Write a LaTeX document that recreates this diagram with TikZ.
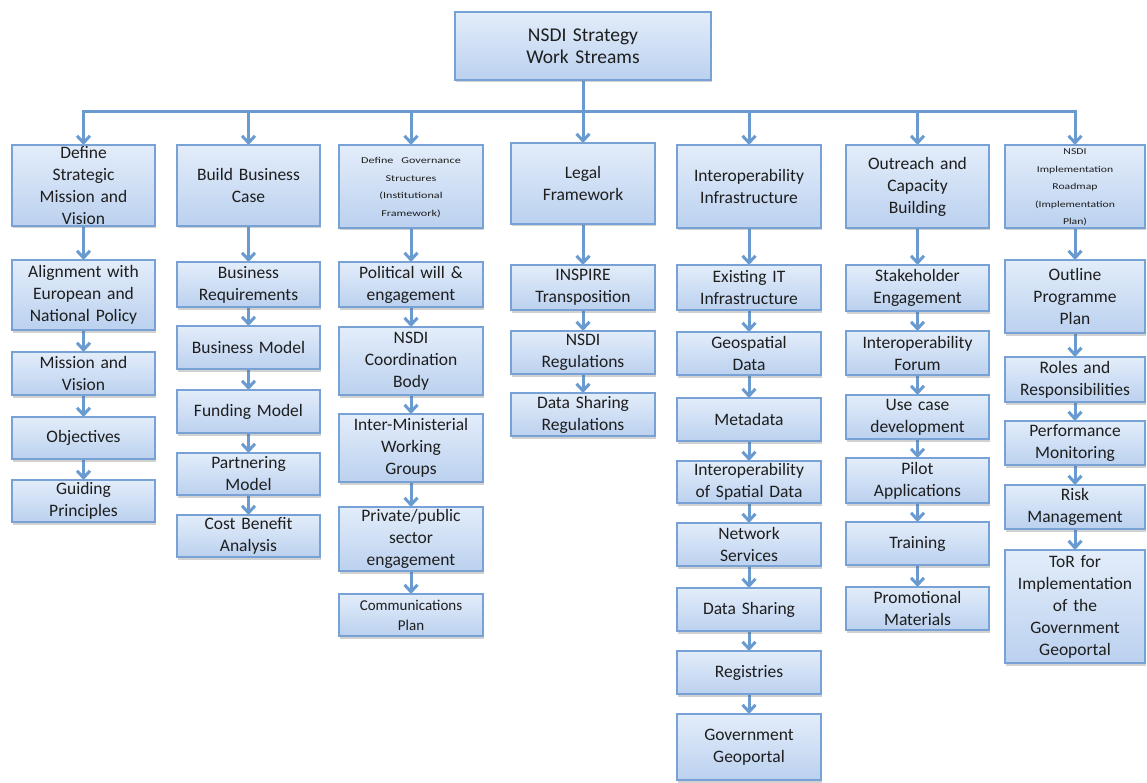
\documentclass[tikz,border=0pt]{standalone}
\usepackage{fontspec}
\setmainfont{Carlito}
\usetikzlibrary{arrows.meta,shadows}
\definecolor{boxtop}{HTML}{E3EDFA}
\definecolor{boxbot}{HTML}{BBD1EF}
\definecolor{boxline}{HTML}{78A2D6}
\definecolor{arrowc}{HTML}{6A9BD0}
\definecolor{txtc}{HTML}{1E1E1E}
\pgfdeclarelayer{background}
\pgfsetlayers{background,main}
\tikzset{
  box/.style={draw=boxline, line width=1.4pt, top color=boxtop, bottom color=boxbot,
    inner sep=0pt, outer sep=0pt,
    drop shadow={shadow xshift=1pt, shadow yshift=-2.5pt, opacity=0.3, fill=black!60}},
  txt/.style={align=center, text=txtc, inner sep=0pt, font=\fontsize{17.5}{22}\selectfont},
  small/.style={font=\fontsize{15}{20}\selectfont},
  big/.style={font=\fontsize{19.5}{22}\selectfont},
  link/.style={draw=arrowc, line width=3pt},
  arr/.style={link, -{Straight Barb[length=7pt,width=13pt]}},
}
% \bx[text style]{name}{left}{top}{right}{bottom}{text}
\newcommand{\bx}[7][]{%
  \node[box, minimum width={(#5-#3)*1pt}, minimum height={(#6-#4)*1pt}]
    (#2) at ({(#3+#5)/2},{(#4+#6)/2}) {};
  \node[txt, text width={(#5-#3-4)*1pt}, #1] at (#2.center) {#7};%
}
\newcommand{\tinytext}[2]{\scalebox{#1}[1]{\fontsize{9}{17.5}\selectfont
  \begin{tabular}{@{}c@{}}#2\end{tabular}}}
\begin{document}
\begin{tikzpicture}[x=1pt,y=-1pt]
\useasboundingbox (0,0) rectangle (1147,783);

% root
\bx[big]{top}{455}{12}{711}{80}{NSDI Strategy\\Work Streams}

% work stream headers
\bx{c1}{12}{145}{155}{226}{Define\\Strategic\\Mission and\\Vision}
\bx{c2}{177}{145}{320}{226}{Build Business\\Case}
\bx{c3}{339}{145}{483}{228}{\tinytext{1.35}{Define Governance\\Structures\\(Institutional\\Framework)}}
\bx{c4}{511}{143}{655}{224}{Legal\\Framework}
\bx{c5}{677}{145}{821}{228}{Interoperability\\Infrastructure}
\bx{c6}{846}{145}{989}{228}{Outreach and\\Capacity\\Building}
\bx{c7}{1005}{145}{1145}{228}{\tinytext{1.3}{NSDI\\Implementation\\Roadmap\\(Implementation\\Plan)}}

% column 1
\bx{a2}{12}{260}{155}{330}{Alignment with\\European and\\National Policy}
\bx{a3}{12}{352}{155}{395}{Mission and\\Vision}
\bx{a4}{12}{417}{155}{459}{Objectives}
\bx{a5}{12}{480}{155}{522}{Guiding\\Principles}

% column 2
\bx{b2}{177}{262}{320}{307}{Business\\Requirements}
\bx{b3}{177}{326}{320}{369}{Business Model}
\bx{b4}{177}{390}{320}{433}{Funding Model}
\bx{b5}{177}{453}{320}{495}{Partnering\\Model}
\bx{b6}{177}{515}{320}{557}{Cost Benefit\\Analysis}

% column 3
\bx{d2}{339}{262}{483}{307}{Political will \&\\engagement}
\bx{d3}{339}{327}{483}{395}{NSDI\\Coordination\\Body}
\bx{d4}{339}{414}{483}{482}{Inter-Ministerial\\Working\\Groups}
\bx{d5}{339}{507}{483}{571}{Private/public\\sector\\engagement}
\bx[small]{d6}{339}{594}{483}{636}{Communications\\Plan}

% column 4
\bx{e2}{511}{265}{655}{310}{INSPIRE\\Transposition}
\bx{e3}{511}{331}{655}{374}{NSDI\\Regulations}
\bx{e4}{511}{393}{655}{436}{Data Sharing\\Regulations}

% column 5
\bx{f2}{677}{265}{821}{310}{Existing IT\\Infrastructure}
\bx{f3}{677}{332}{821}{375}{Geospatial\\Data}
\bx{f4}{677}{398}{821}{441}{Metadata}
\bx{f5}{677}{461}{821}{503}{Interoperability\\of Spatial Data}
\bx{f6}{677}{523}{821}{566}{Network\\Services}
\bx{f7}{677}{588}{821}{631}{Data Sharing}
\bx{f8}{677}{651}{821}{694}{Registries}
\bx{f9}{677}{714}{821}{780}{Government\\Geoportal}

% column 6
\bx{g2}{846}{265}{989}{311}{Stakeholder\\Engagement}
\bx{g3}{846}{331}{989}{375}{Interoperability\\Forum}
\bx{g4}{846}{395}{989}{439}{Use case\\development}
\bx{g5}{846}{458}{989}{503}{Pilot\\Applications}
\bx{g6}{846}{522}{989}{565}{Training}
\bx{g7}{846}{587}{989}{630}{Promotional\\Materials}

% column 7
\bx{h2}{1005}{260}{1145}{333}{Outline\\Programme\\Plan}
\bx{h3}{1005}{357}{1145}{402}{Roles and\\Responsibilities}
\bx{h4}{1005}{421}{1145}{465}{Performance\\Monitoring}
\bx{h5}{1005}{485}{1145}{529}{Risk\\Management}
\bx{h6}{1005}{550}{1145}{663}{ToR for\\Implementation\\of the\\Government\\Geoportal}

\begin{pgfonlayer}{background}
  % distribution bar under the root
  \coordinate (bar) at (583,112);
  \draw[link, line cap=rect] (c1.north |- bar) -- (c7.north |- bar);
  \draw[arr] (top.south) -- (c4.north);
  \foreach \c in {c1,c2,c3,c5,c6,c7}
    \draw[arr] (\c.north |- bar) -- (\c.north);
  % chains inside each column
  \foreach \p/\q in {c1/a2,a2/a3,a3/a4,a4/a5,
                     c2/b2,b2/b3,b3/b4,b4/b5,b5/b6,
                     c3/d2,d2/d3,d3/d4,d4/d5,d5/d6,
                     c4/e2,e2/e3,e3/e4,
                     c5/f2,f2/f3,f3/f4,f4/f5,f5/f6,f6/f7,f7/f8,f8/f9,
                     c6/g2,g2/g3,g3/g4,g4/g5,g5/g6,g6/g7,
                     c7/h2,h2/h3,h3/h4,h4/h5,h5/h6}
    \draw[arr] (\p.south) -- (\q.north);
\end{pgfonlayer}
\end{tikzpicture}
\end{document}
